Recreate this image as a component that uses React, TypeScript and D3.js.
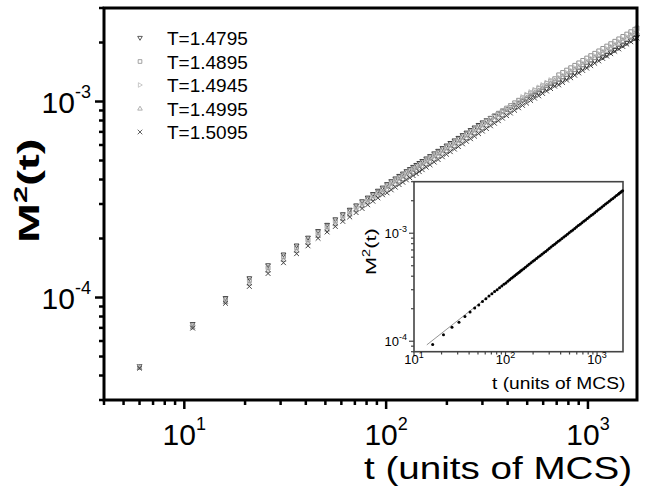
import React from 'react';
import * as d3 from 'd3';

// time in MCS (shared by the five temperatures)
const tMain = [
  6, 11, 16, 21, 26, 31, 36, 41, 46, 51, 56, 61, 66, 71, 76, 81, 86, 91, 96,
  101, 106, 111, 116, 121, 126, 131, 136, 141, 146, 151,
  158, 165, 173, 181, 190, 199, 208, 218, 228, 239, 250, 262, 274, 287, 300,
  314, 329, 344, 360, 377, 395, 413, 433, 453, 474,
  496, 520, 544, 570, 596, 624, 653, 684, 716, 749,
  784, 821, 860, 900, 942, 986, 1032, 1080, 1131, 1184,
  1239, 1297, 1358, 1421, 1488, 1557, 1630, 1706, 1750,
];

// M^2(t), units of 1e-4
const m4795 = [
  0.446, 0.731, 0.991, 1.251, 1.457, 1.654, 1.838, 2.015,
  2.177, 2.343, 2.5, 2.654, 2.798, 2.944, 3.09, 3.227, 3.364, 3.498, 3.629,
  3.779, 3.912, 4.04, 4.163, 4.279, 4.4, 4.512, 4.628, 4.736, 4.846, 4.959,
  5.109, 5.253, 5.424, 5.589, 5.772, 5.947, 6.129, 6.315, 6.507, 6.72, 6.924, 7.135, 7.352, 7.575, 7.804,
  8.004, 8.226, 8.435, 8.658, 8.878, 9.103, 9.333, 9.592, 9.844, 10.07,
  10.3, 10.57, 10.81, 11.06, 11.32, 11.59, 11.88, 12.18, 12.46, 12.81,
  13.17, 13.55, 13.94, 14.33, 14.76, 15.18, 15.61, 16.05, 16.5, 16.78,
  17.26, 17.76, 18.26, 18.78, 19.32, 19.87, 20.44, 21.02, 21.35,
];
const m4895 = [
  0.444, 0.723, 0.974, 1.223, 1.423, 1.616, 1.796, 1.969,
  2.139, 2.303, 2.457, 2.608, 2.749, 2.893, 3.036, 3.171, 3.305, 3.438, 3.567,
  3.714, 3.845, 3.971, 4.091, 4.205, 4.324, 4.434, 4.548, 4.655, 4.763, 4.874,
  5.021, 5.162, 5.331, 5.493, 5.673, 5.845, 6.023, 6.207, 6.395, 6.604, 6.805, 7.012, 7.225, 7.445, 7.67,
  7.95, 8.21, 8.46, 8.717, 8.982, 9.255, 9.535, 9.848, 10.15, 10.43,
  10.72, 11.05, 11.35, 11.68, 12.01, 12.35, 12.71, 13.07, 13.68, 14.06,
  14.46, 14.87, 15.3, 15.74, 16.2, 16.66, 17.14, 17.62, 18.12, 18.65,
  19.18, 19.73, 20.29, 20.87, 21.47, 22.08, 22.71, 23.36, 23.73,
];
const m4945 = [
  0.441, 0.714, 0.962, 1.194, 1.39, 1.578, 1.754, 1.923,
  2.089, 2.249, 2.399, 2.547, 2.685, 2.825, 2.965, 3.097, 3.228, 3.357, 3.483,
  3.649, 3.778, 3.901, 4.02, 4.132, 4.248, 4.357, 4.469, 4.573, 4.679, 4.789,
  4.934, 5.072, 5.238, 5.397, 5.574, 5.743, 5.918, 6.098, 6.283, 6.489, 6.686, 6.89, 7.099, 7.315, 7.536,
  7.812, 8.068, 8.313, 8.565, 8.826, 9.094, 9.37, 9.677, 9.971, 10.55,
  10.85, 11.18, 11.49, 11.81, 12.15, 12.49, 12.86, 12.92, 13.29, 13.66,
  14.05, 14.45, 14.87, 15.29, 15.74, 16.19, 16.65, 17.12, 17.6, 18.11,
  18.64, 19.17, 19.71, 20.28, 20.86, 21.45, 22.07, 22.69, 23.05,
];
const m4995 = [
  0.438, 0.705, 0.95, 1.18, 1.373, 1.559, 1.733, 1.9,
  2.064, 2.222, 2.37, 2.516, 2.653, 2.791, 2.929, 3.06, 3.189, 3.317, 3.441,
  3.563, 3.688, 3.809, 3.924, 4.034, 4.148, 4.253, 4.363, 4.465, 4.568, 4.675,
  4.817, 4.952, 5.114, 5.269, 5.442, 5.607, 5.778, 5.954, 6.134, 6.335, 6.528, 6.726, 6.931, 7.141, 7.358,
  7.582, 7.83, 8.068, 8.313, 8.566, 8.826, 9.094, 9.392, 9.677, 10.19,
  10.47, 10.8, 11.09, 11.41, 11.73, 12.06, 12.42, 12.77, 12.98, 13.34,
  13.72, 14.11, 14.52, 14.93, 15.37, 15.81, 16.26, 16.72, 17.19, 17.69,
  18.2, 18.72, 19.25, 19.8, 20.37, 20.95, 21.55, 22.16, 22.51,
];
const m5095 = [
  0.436, 0.698, 0.934, 1.139, 1.326, 1.505, 1.673, 1.835,
  2.005, 2.159, 2.303, 2.445, 2.578, 2.712, 2.846, 2.973, 3.099, 3.223, 3.344,
  3.42, 3.541, 3.656, 3.767, 3.873, 3.982, 4.083, 4.189, 4.286, 4.386, 4.488,
  4.624, 4.754, 4.909, 5.058, 5.224, 5.383, 5.547, 5.716, 5.889, 6.082, 6.267, 6.457, 6.654, 6.856, 7.064,
  7.279, 7.517, 7.745, 7.981, 8.224, 8.473, 8.73, 9.016, 9.291, 9.551,
  9.817, 10.12, 10.4, 10.69, 10.99, 11.31, 11.64, 11.97, 12.16, 12.5,
  12.86, 13.22, 13.61, 13.99, 14.4, 14.81, 15.24, 15.67, 16.11, 16.58,
  17.05, 17.54, 18.04, 18.55, 19.09, 19.63, 20.19, 20.76, 21.09,
];

const seriesNames = ['T=1.4795', 'T=1.4895', 'T=1.4945', 'T=1.4995', 'T=1.5095'];
const seriesMarks = ['triDown', 'square', 'triRight', 'triUp', 'cross'];
const seriesColors = ['#333333', '#8c8c8c', '#bdbdbd', '#9c9c9c', '#3a3a3a'];
const seriesValues = [m4795, m4895, m4945, m4995, m5095];

// inset: one run plus the power-law fit
const insetT = [
  16, 21, 26, 31, 36, 41, 46, 51, 56, 61, 66, 71, 76, 81, 86, 91, 96,
  101, 106, 111, 116, 121, 126, 131, 136, 141, 146, 151,
  158, 165, 173, 181, 190, 199, 208, 218, 228, 239, 250, 262, 274, 287, 300,
  314, 329, 344, 360, 377, 395, 413, 433, 453, 474,
  496, 520, 544, 570, 596, 624, 653, 684, 716, 749,
  784, 821, 860, 900, 942, 986, 1032, 1080, 1131, 1184,
  1239, 1297, 1358, 1421, 1488, 1557, 1630, 1706, 1750, 1800, 1850, 1900,
];
const insetM = [
  0.931, 1.147, 1.349, 1.502, 1.698, 1.862, 2.028, 2.163, 2.328, 2.48, 2.62, 2.75, 2.88, 3.0, 3.13, 3.25, 3.37,
  3.47, 3.59, 3.70, 3.82, 3.93, 4.04, 4.15, 4.25, 4.36, 4.46, 4.56,
  4.70, 4.84, 4.99, 5.15, 5.32, 5.49, 5.65, 5.83, 6.01, 6.20, 6.39, 6.59, 6.79, 7.01, 7.22,
  7.44, 7.68, 7.91, 8.15, 8.41, 8.67, 8.94, 9.22, 9.50, 9.80,
  10.10, 10.42, 10.74, 11.08, 11.41, 11.77, 12.13, 12.51, 12.90, 13.29,
  13.70, 14.13, 14.57, 15.02, 15.49, 15.97, 16.46, 16.97, 17.50, 18.05,
  18.60, 19.18, 19.77, 20.38, 21.01, 21.66, 22.33, 23.01, 23.41, 23.86, 24.30, 24.74,
];
const fitT = [13.8, 1920];
const fitM = [0.925, 24.9];

const mainXMajor = [10, 100, 1000];
const mainXExp = ['1', '2', '3'];
const mainYMajor = [1e-4, 1e-3];
const mainYExp = ['-4', '-3'];

const FONT = 'Liberation Sans, Arial, Helvetica, sans-serif';

function markerPath(kind: string, x: number, y: number, r: number) {
  switch (kind) {
    case 'triDown':
      return `M${x - r},${y - r * 0.7}L${x + r},${y - r * 0.7}L${x},${y + r}Z`;
    case 'triUp':
      return `M${x - r},${y + r * 0.7}L${x + r},${y + r * 0.7}L${x},${y - r}Z`;
    case 'triRight':
      return `M${x - r * 0.7},${y - r}L${x + r},${y}L${x - r * 0.7},${y + r}Z`;
    case 'square':
      return `M${x - r * 0.8},${y - r * 0.8}h${r * 1.6}v${r * 1.6}h${-r * 1.6}Z`;
    default:
      return `M${x - r},${y - r}L${x + r},${y + r}M${x - r},${y + r}L${x + r},${y - r}`;
  }
}

function minorTicks(lo: number, hi: number) {
  const out: number[] = [];
  for (let d = Math.pow(10, Math.floor(Math.log10(lo))); d <= hi; d *= 10) {
    for (let k = 2; k <= 9; k++) {
      const v = k * d;
      if (v >= lo * 0.999 && v <= hi * 1.001) out.push(v);
    }
  }
  return out;
}

const App = () => {
  const x = d3.scaleLog().domain([4, 1750]).range([104, 637]);
  const y = d3.scaleLog().domain([3e-5, 3e-3]).range([400, 8]);
  const ix = d3.scaleLog().domain([10, 1920]).range([414, 623]);
  const iy = d3.scaleLog().domain([8e-5, 3e-3]).range([351.7, 181.7]);

  const xMinor = minorTicks(4, 1750);
  const yMinor = minorTicks(3e-5, 3e-3);
  const ixMinor = minorTicks(10, 1920);
  const iyMinor = minorTicks(8e-5, 3e-3);

  const fitLine = d3.line<number>()
    .x((_, i) => ix(fitT[i]))
    .y((d) => iy(d * 1e-4));

  const legendBase = [45, 68.5, 92, 115.5, 139];

  return (
    <svg width={651} height={487} style={{ position: 'absolute', left: 0, top: 0, background: '#fff' }}
      fontFamily={FONT}>
      <rect x={0} y={0} width={651} height={487} fill="#fff" />

      {/* main data */}
      {seriesValues.map((vals, s) => (
        <g key={s} fill="none" stroke={seriesColors[s]} strokeWidth={0.95}>
          {vals.map((v, i) => (
            <path key={i} d={markerPath(seriesMarks[s], x(tMain[i]), y(v * 1e-4), 2.4)} />
          ))}
        </g>
      ))}

      {/* main frame */}
      <rect x={104} y={8} width={533} height={392} fill="none" stroke="#000" strokeWidth={3} />
      {mainXMajor.map((v) => (
        <line key={v} x1={x(v)} x2={x(v)} y1={400} y2={409} stroke="#000" strokeWidth={2.5} />
      ))}
      {xMinor.map((v) => (
        <line key={v} x1={x(v)} x2={x(v)} y1={400} y2={405} stroke="#000" strokeWidth={2.5} />
      ))}
      {mainYMajor.map((v) => (
        <line key={v} x1={95} x2={104} y1={y(v)} y2={y(v)} stroke="#000" strokeWidth={2.5} />
      ))}
      {yMinor.map((v) => (
        <line key={v} x1={99} x2={104} y1={y(v)} y2={y(v)} stroke="#000" strokeWidth={2.5} />
      ))}
      {mainXMajor.map((v, i) => (
        <text key={v} x={x(v)} y={445} textAnchor="middle" fontSize={30}>
          10<tspan dy={-15} fontSize={18}>{mainXExp[i]}</tspan>
        </text>
      ))}
      {mainYMajor.map((v, i) => (
        <text key={v} x={91} y={y(v) + 11} textAnchor="end" fontSize={30}>
          10<tspan dy={-15} fontSize={18}>{mainYExp[i]}</tspan>
        </text>
      ))}
      <text transform="translate(364,479) scale(1.245,1)" fontSize={31}>
        t (units of MCS)
      </text>
      <text transform="translate(39,243) rotate(-90) scale(1.6,1)" fontSize={30} fontWeight="bold">
        M<tspan dy={-12} fontSize={19}>2</tspan><tspan dy={12}>(t)</tspan>
      </text>

      {/* legend */}
      {seriesNames.map((name, s) => (
        <g key={name}>
          <path d={markerPath(seriesMarks[s], 140, legendBase[s] - 7, 2.3)} fill="none"
            stroke={seriesColors[s]} strokeWidth={0.8} />
          <text x={167} y={legendBase[s]} fontSize={19}>{name}</text>
        </g>
      ))}

      {/* inset */}
      <rect x={414} y={181.7} width={209} height={170} fill="#fff" stroke="#444" strokeWidth={1.6} />
      <path d={fitLine(fitM) || ''} fill="none" stroke="#888" strokeWidth={0.9} />
      {insetM.map((v, i) => (
        <circle key={i} cx={ix(insetT[i])} cy={iy(v * 1e-4)} r={1.5} fill="#000" />
      ))}
      {mainXMajor.map((v) => (
        <line key={v} x1={ix(v)} x2={ix(v)} y1={351.7} y2={356} stroke="#444" strokeWidth={1.2} />
      ))}
      {ixMinor.map((v) => (
        <line key={v} x1={ix(v)} x2={ix(v)} y1={351.7} y2={354.5} stroke="#444" strokeWidth={1.2} />
      ))}
      {mainYMajor.map((v) => (
        <line key={v} x1={409} x2={414} y1={iy(v)} y2={iy(v)} stroke="#444" strokeWidth={1.2} />
      ))}
      {iyMinor.map((v) => (
        <line key={v} x1={411} x2={414} y1={iy(v)} y2={iy(v)} stroke="#444" strokeWidth={1.2} />
      ))}
      {mainXMajor.map((v, i) => (
        <text key={v} x={ix(v)} y={364} textAnchor="middle" fontSize={13}>
          10<tspan dy={-6} fontSize={9}>{mainXExp[i]}</tspan>
        </text>
      ))}
      {mainYMajor.map((v, i) => (
        <text key={v} x={407} y={iy(v) + 5} textAnchor="end" fontSize={13}>
          10<tspan dy={-6} fontSize={9}>{mainYExp[i]}</tspan>
        </text>
      ))}
      <text transform="translate(492,389) scale(1.13,1)" fontSize={17}>
        t (units of MCS)
      </text>
      <text transform="translate(376,275) rotate(-90) scale(1.45,1)" fontSize={15}>
        M<tspan dy={-6} fontSize={10}>2</tspan><tspan dy={6}>(t)</tspan>
      </text>
    </svg>
  );
};

export default App;
